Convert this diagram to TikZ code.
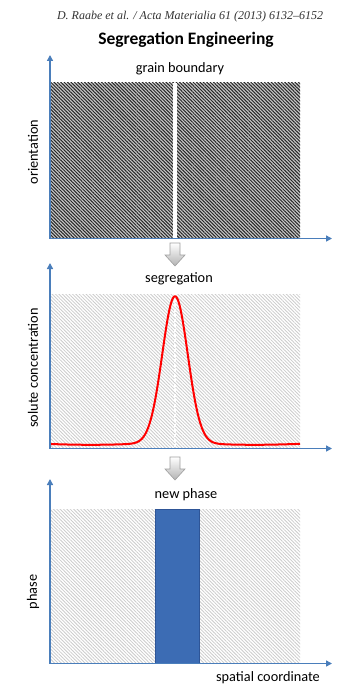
\documentclass[tikz,border=0pt]{standalone}
\usepackage{fontspec}
\setmainfont{Carlito}
\newfontfamily\timesfont[Ligatures=TeX]{Liberation Serif}
\usetikzlibrary{patterns.meta,arrows.meta}
\definecolor{axisblue}{HTML}{4A7EBB}
\definecolor{barblue}{HTML}{3C6CB4}
\definecolor{barborder}{HTML}{2E5597}
\begin{document}
\begin{tikzpicture}[x=1pt,y=-1pt,
  axis/.style={draw=axisblue,line width=1.5pt,-{Triangle[length=6pt,width=6pt]}},
  lbl/.style={font=\fontsize{14.3}{16}\selectfont,inner sep=0pt},
  ylbl/.style={lbl,rotate=90},
  blockarrow/.style={draw=gray!75,top color=white,bottom color=gray!60,line width=0.6pt},
  darkhatch/.style={preaction={fill=black!22},pattern={Lines[angle=-45,distance=2.4pt,line width=1pt]},pattern color=black!85},
  lighthatch/.style={preaction={fill=white},pattern={Lines[angle=-45,distance=2.4pt,line width=0.8pt]},pattern color=black!20}]
\useasboundingbox[fill=white] (0,0) rectangle (360,690);

% header and title
\node[inner sep=0pt,font=\timesfont\itshape\fontsize{12}{14}\selectfont,text=black!80] (hdr) at (190,17) {D. Raabe et al. / Acta Materialia 61 (2013) 6132--6152};
\node[inner sep=0pt,font=\bfseries\fontsize{17.5}{20}\selectfont] (title) at (186,40) {Segregation Engineering};

% ---------- panel 1 ----------
\path[darkhatch] (50,83) rectangle (300,238);
\fill[white] (173,83) rectangle (176.5,238);
\coordinate (o1) at (50,238.5);
\coordinate (y1) at (50,55);
\coordinate (x1) at (332,238.5);
\draw[axis] (o1) -- (y1);
\draw[axis] (o1) -- (x1);
\node[lbl] (gb) at (180,69) {grain boundary};
\node[ylbl] (or) at (33,152) {orientation};

% block arrow 1
\draw[blockarrow] (170,243) -- (180,243) -- (180,255) -- (185,255) -- (175,266) -- (165,255) -- (170,255) -- cycle;

% ---------- panel 2 ----------
\path[lighthatch] (50,294) rectangle (300,448);
\draw[white,line width=1.5pt,dash pattern=on 3pt off 2pt] (175,294) -- (175,448);
\draw[red,line width=2pt,domain=50:300,samples=250,smooth]
  plot (\x,{444 + 0.8*sin((\x-50)*2.2) - 147*exp(-((\x-175)/18)^2)});
\coordinate (o2) at (50,448.5);
\coordinate (y2) at (50,263);
\coordinate (x2) at (332,448.5);
\draw[axis] (o2) -- (y2);
\draw[axis] (o2) -- (x2);
\node[lbl] (seg) at (179,279) {segregation};
\node[ylbl] (sc) at (33,368) {solute concentration};

% block arrow 2
\draw[blockarrow] (170,457) -- (180,457) -- (180,469) -- (185,469) -- (175,480) -- (165,469) -- (170,469) -- cycle;

% ---------- panel 3 ----------
\path[lighthatch] (50,509) rectangle (300,663);
\draw[fill=barblue,draw=barborder,line width=0.8pt] (155,509) rectangle (199,663);
\coordinate (o3) at (50,663.5);
\coordinate (y3) at (50,479);
\coordinate (x3) at (332,663.5);
\draw[axis] (o3) -- (y3);
\draw[axis] (o3) -- (x3);
\node[lbl] (np) at (186,495) {new phase};
\node[ylbl] (ph) at (33,592) {phase};
\node[lbl] (spc) at (268,678) {spatial coordinate};
\end{tikzpicture}
\end{document}
